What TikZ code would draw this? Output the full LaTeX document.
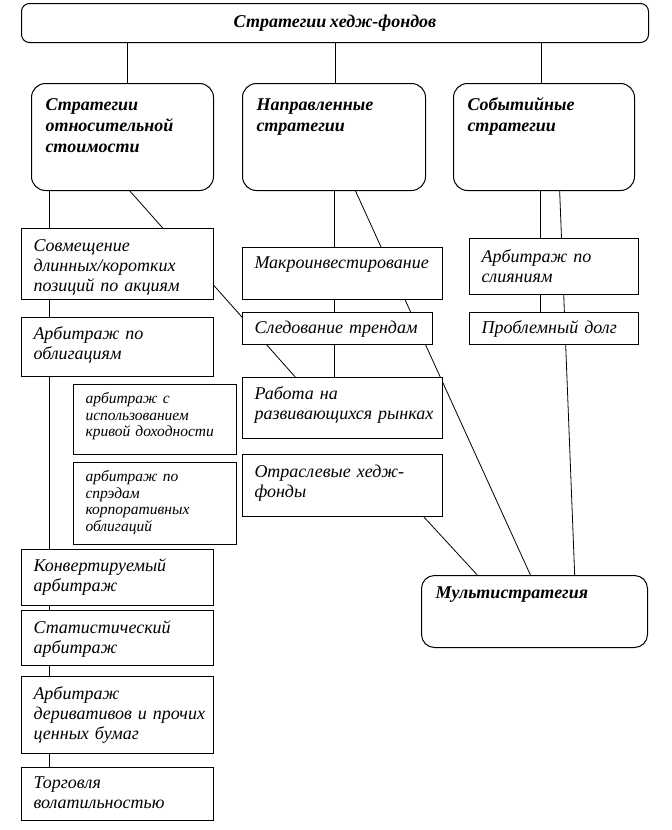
\documentclass[tikz,border=0pt]{standalone}
\usepackage{fontspec}
\setmainfont{Liberation Serif}[WordSpace=0.75]
\usetikzlibrary{calc, backgrounds}
\tikzset{
  every picture/.style={x=1pt, y=-1pt},
  bx/.style={draw, fill=white, line width=1pt, anchor=north west, align=left, inner xsep=12pt, inner ysep=0pt, text height=22pt, font=\itshape\fontsize{18}{20}\selectfont},
  rbx/.style={bx, rounded corners=14pt, inner xsep=14pt, text height=27pt, font=\bfseries\itshape\fontsize{18}{21}\selectfont},
  small/.style={font=\itshape\fontsize{15.5}{16.5}\selectfont, text height=19pt},
  link/.style={line width=0.8pt},
}

\begin{document}
\begin{tikzpicture}
  \useasboundingbox (0,0) rectangle (672,830);
  % top
  \node[draw, fill=white, line width=1pt, rounded corners=8pt, anchor=north west, minimum width=627pt, minimum height=39pt, font=\bfseries\itshape\fontsize{18}{20}\selectfont] (top) at (21,3) {Стратегии хедж-фондов};
  \node[rbx, text width=154pt, text depth=80pt] (rel) at (31,83) {Стратегии\\относительной\\стоимости};
  \node[rbx, text width=155pt, text depth=80pt] (dir) at (242,83) {Направленные\\стратегии};
  \node[rbx, text width=153pt, text depth=80pt] (evt) at (453,83) {Событийные\\стратегии};
  % left column
  \node[bx, text width=168pt, text height=23pt, text depth=48pt] (ls) at (21,228) {Совмещение\\длинных/коротких\\\mbox{позиций по акциям}};
  \node[bx, text width=168pt, text depth=37pt] (bond) at (21,317) {Арбитраж по\\облигациям};
  \node[bx, small, text width=139pt, text depth=51pt] (yc) at (73,384) {арбитраж с\\использованием\\\mbox{кривой доходности}};
  \node[bx, small, text width=139pt, text depth=63pt] (cs) at (73,462) {арбитраж по\\спрэдам\\корпоративных\\облигаций};
  \node[bx, text width=168pt, text depth=34pt] (conv) at (21,549) {Конвертируемый\\арбитраж};
  \node[bx, text width=168pt, text height=23pt, text depth=32pt] (stat) at (21,610) {Статистический\\арбитраж};
  \node[bx, text width=168pt, text height=23pt, text depth=54pt] (deriv) at (21,676) {Арбитраж\\\mbox{деривативов и прочих}\\ценных бумаг};
  \node[bx, text width=168pt, text height=21pt, text depth=32pt] (vol) at (21,767) {Торговля\\волатильностью};
  % middle column
  \node[bx, text width=176pt, text height=21pt, text depth=31pt] (macro) at (242,247) {Макроинвестирование};
  \node[bx, text width=166pt, text height=21pt, text depth=11pt] (trend) at (242,312) {\mbox{Следование трендам}};
  \node[bx, text width=176pt, text depth=39pt] (em) at (242,377) {Работа на\\\mbox{развивающихся рынках}};
  \node[bx, text width=176pt, text height=23pt, text depth=39pt] (sect) at (242,454) {\mbox{Отраслевые хедж-}\\фонды};
  % right column
  \node[bx, text width=145pt, text height=24pt, text depth=32pt] (merg) at (469,238) {Арбитраж по\\слияниям};
  \node[bx, text width=145pt, text height=21pt, text depth=11pt] (debt) at (469,312) {\mbox{Проблемный долг}};
  \node[rbx, rounded corners=13pt, text width=198pt, text height=23pt, text depth=49pt] (multi) at (421,575) {Мультистратегия};
  % connectors
  \begin{scope}[on background layer]
    \foreach \n/\dx in {rel/5, dir/1, evt/-3}
      \draw[link] ([xshift=\dx pt]\n.north |- top.south) -- ([xshift=\dx pt]\n.north);
    \draw[link] ([xshift=18pt]rel.south west) -- ([xshift=28pt]vol.north west);
    \draw[link] (dir.south) -- (dir.south |- em.north);
    \draw[link] ([xshift=-4pt]evt.south) -- ([xshift=-4pt]evt.south |- debt.north);
    \draw[link] ($(rel.south west)!0.54!(rel.south east)$) -- ($(em.north west)!0.265!(em.north east)$);
    \draw[link] ($(dir.south west)!0.617!(dir.south east)$) -- ($(multi.north west)!0.482!(multi.north east)$);
    \draw[link] ($(sect.south west)!0.905!(sect.south east)$) -- ($(multi.north west)!0.248!(multi.north east)$);
    \draw[link] ($(evt.south west)!0.586!(evt.south east)$) -- ($(multi.north west)!0.677!(multi.north east)$);
  \end{scope}
\end{tikzpicture}
\end{document}
